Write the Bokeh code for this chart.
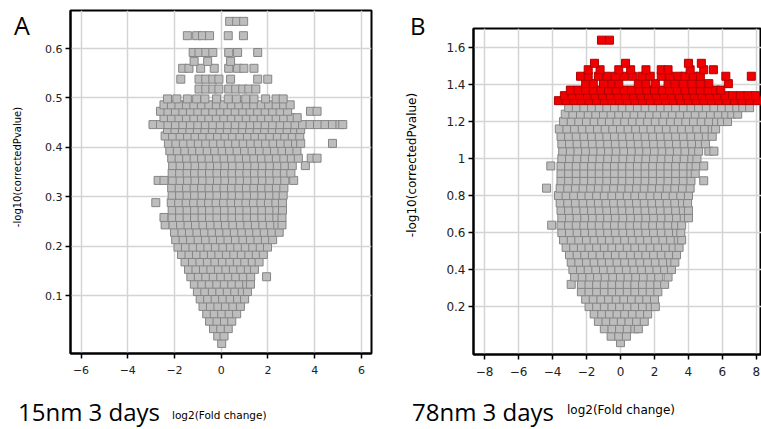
from bokeh.plotting import figure
from bokeh.models import Range1d, FixedTicker, Spacer, Div
from bokeh.layouts import row, column
from bokeh.embed import file_html
from bokeh.resources import INLINE

# ---------------- Panel A (15nm 3 days): rows of points ----------------
A_ROW_Y = [0.003, 0.018, 0.033, 0.048, 0.063, 0.078, 0.093, 0.108, 0.123, 0.138,
           0.153, 0.168, 0.183, 0.198, 0.213, 0.228, 0.243, 0.258, 0.273, 0.288,
           0.303, 0.318, 0.333, 0.348, 0.363, 0.378, 0.393, 0.408, 0.423, 0.436,
           0.446, 0.46, 0.473, 0.486, 0.498,
           0.518, 0.538, 0.56, 0.574, 0.592, 0.626, 0.655]
A_ROW_X = [
    [0.02],
    [-0.15, 0.12],
    [-0.33, -0.02, 0.3],
    [-0.5, -0.18, 0.14, 0.45],
    [-0.62, -0.3, 0.02, 0.34, 0.66],
    [-0.78, -0.46, -0.14, 0.18, 0.5, 0.82],
    [-0.9, -0.58, -0.26, 0.06, 0.38, 0.7, 1.0],
    [-1.02, -0.7, -0.38, -0.06, 0.26, 0.58, 0.9, 1.12],
    [-1.15, -0.83, -0.51, -0.19, 0.13, 0.45, 0.77, 1.09, 1.25],
    [-1.3, -0.98, -0.66, -0.34, -0.02, 0.3, 0.62, 0.94, 1.26, 1.94],
    [-1.4, -1.08, -0.76, -0.44, -0.12, 0.2, 0.52, 0.84, 1.16, 1.42],
    [-1.55, -1.23, -0.91, -0.59, -0.27, 0.05, 0.37, 0.69, 1.01, 1.33, 1.62],
    [-1.7, -1.38, -1.06, -0.74, -0.42, -0.1, 0.22, 0.54, 0.86, 1.18, 1.5, 1.8],
    [-1.85, -1.53, -1.21, -0.89, -0.57, -0.25, 0.07, 0.39, 0.71, 1.03, 1.35, 1.67, 1.98],
    [-1.95, -1.63, -1.31, -0.99, -0.67, -0.35, -0.03, 0.29, 0.61, 0.93, 1.25, 1.57, 1.89, 2.2],
    [-2.0, -1.68, -1.36, -1.04, -0.72, -0.4, -0.08, 0.24, 0.56, 0.88, 1.2, 1.52, 1.84, 2.16, 2.48],
    [-2.4, -2.06, -1.74, -1.42, -1.1, -0.78, -0.46, -0.14, 0.18, 0.5, 0.82, 1.14, 1.46, 1.78, 2.1, 2.42, 2.6],
    [-2.45, -2.1, -1.78, -1.46, -1.14, -0.82, -0.5, -0.18, 0.14, 0.46, 0.78, 1.1, 1.42, 1.74, 2.06, 2.38, 2.6],
    [-2.1, -1.78, -1.46, -1.14, -0.82, -0.5, -0.18, 0.14, 0.46, 0.78, 1.1, 1.42, 1.74, 2.06, 2.38, 2.62],
    [-2.8, -2.14, -1.82, -1.5, -1.18, -0.86, -0.54, -0.22, 0.1, 0.42, 0.74, 1.06, 1.38, 1.7, 2.02, 2.34, 2.62],
    [-2.1, -1.78, -1.46, -1.14, -0.82, -0.5, -0.18, 0.14, 0.46, 0.78, 1.1, 1.42, 1.74, 2.06, 2.38, 2.65],
    [-2.12, -1.8, -1.48, -1.16, -0.84, -0.52, -0.2, 0.12, 0.44, 0.76, 1.08, 1.4, 1.72, 2.04, 2.36, 2.68],
    [-2.7, -2.45, -2.08, -1.76, -1.44, -1.12, -0.8, -0.48, -0.16, 0.16, 0.48, 0.8, 1.12, 1.44, 1.76, 2.08, 2.4, 2.72, 3.1],
    [-2.1, -1.78, -1.46, -1.14, -0.82, -0.5, -0.18, 0.14, 0.46, 0.78, 1.1, 1.42, 1.74, 2.06, 2.38, 2.7, 2.98],
    [-2.08, -1.76, -1.44, -1.12, -0.8, -0.48, -0.16, 0.16, 0.48, 0.8, 1.12, 1.44, 1.76, 2.08, 2.4, 2.72, 3.04, 3.6],
    [-2.12, -1.8, -1.48, -1.16, -0.84, -0.52, -0.2, 0.12, 0.44, 0.76, 1.08, 1.4, 1.72, 2.04, 2.36, 2.68, 3.0, 3.3, 3.85, 4.1],
    [-2.2, -1.88, -1.56, -1.24, -0.92, -0.6, -0.28, 0.04, 0.36, 0.68, 1.0, 1.32, 1.64, 1.96, 2.28, 2.6, 2.92, 3.24],
    [-2.26, -1.94, -1.62, -1.3, -0.98, -0.66, -0.34, -0.02, 0.3, 0.62, 0.94, 1.26, 1.58, 1.9, 2.22, 2.54, 2.86, 3.18, 3.4, 4.76],
    [-2.4, -2.08, -1.76, -1.44, -1.12, -0.8, -0.48, -0.16, 0.16, 0.48, 0.8, 1.12, 1.44, 1.76, 2.08, 2.4, 2.72, 3.04, 3.36],
    [-2.3, -1.98, -1.66, -1.34, -1.02, -0.7, -0.38, -0.06, 0.26, 0.58, 0.9, 1.22, 1.54, 1.86, 2.18, 2.5, 2.82, 3.14, 3.4],
    [-2.92, -2.6, -2.28, -1.96, -1.64, -1.32, -1.0, -0.68, -0.36, -0.04, 0.28, 0.6, 0.92, 1.24, 1.56, 1.88,
     2.2, 2.52, 2.84, 3.16, 3.48, 3.8, 4.12, 4.44, 4.76, 5.08, 5.2],
    [-2.45, -2.13, -1.81, -1.49, -1.17, -0.85, -0.53, -0.21, 0.11, 0.43, 0.75, 1.07, 1.39, 1.71, 2.03, 2.35, 2.67, 2.99, 3.25],
    [-2.6, -2.28, -1.96, -1.64, -1.32, -1.0, -0.68, -0.36, -0.04, 0.28, 0.6, 0.92, 1.24, 1.56, 1.88, 2.2, 2.52, 2.84, 3.82, 4.1],
    [-2.45, -2.13, -1.81, -1.49, -1.17, -0.85, -0.53, -0.21, 0.11, 0.43, 0.75, 1.07, 1.39, 1.71, 2.03, 2.35, 2.67, 2.95],
    [-2.3, -1.9, -1.45, -1.05, -0.7, -0.2, 0.3, 0.65, 1.05, 1.4, 1.9, 2.35, 2.65],
    [-0.95, -0.66, -0.36, -0.1, 0.32, 0.62, 0.92, 1.18, 1.48],
    [-1.73, -0.95, -0.66, -0.36, -0.1, 0.4, 1.56, 1.99],
    [-1.65, -1.38, -0.88, -0.3, 0.32, 0.7, 0.97, 1.4],
    [-1.16, -0.58, 0.4],
    [-1.2, -0.95, -0.66, -0.36, 0.32, 0.7, 1.56],
    [-1.45, -1.05, -0.8, -0.5, 0.3, 0.95],
    [0.36, 0.66, 0.96],
]

# ---------------- Panel B (78nm 3 days) ----------------
B_GRAY_Y = [0.005, 0.04, 0.08, 0.12, 0.16, 0.2, 0.24, 0.28, 0.32, 0.36, 0.4, 0.44, 0.48, 0.52,
            0.56, 0.6, 0.64, 0.68, 0.72, 0.76, 0.8, 0.84, 0.88, 0.92, 0.96, 1.0, 1.04, 1.08,
            1.12, 1.16, 1.2, 1.24, 1.275]
B_GRAY_X = [
    [0.0],
    [-0.55, -0.1, 0.35],
    [-0.95, -0.5, -0.05, 0.4, 0.85, 1.05],
    [-1.3, -0.85, -0.4, 0.05, 0.5, 0.95, 1.4],
    [-1.55, -1.1, -0.65, -0.2, 0.25, 0.7, 1.15, 1.6],
    [-1.85, -1.4, -0.95, -0.5, -0.05, 0.4, 0.85, 1.3, 1.75, 2.05],
    [-2.05, -1.6, -1.15, -0.7, -0.25, 0.2, 0.65, 1.1, 1.55, 2.0],
    [-2.3, -1.85, -1.4, -0.95, -0.5, -0.05, 0.4, 0.85, 1.3, 1.75, 2.2],
    [-2.9, -2.3, -1.85, -1.4, -0.95, -0.5, -0.05, 0.4, 0.85, 1.3, 1.75, 2.2, 2.6],
    [-2.7, -2.25, -1.8, -1.35, -0.9, -0.45, 0.0, 0.45, 0.9, 1.35, 1.8, 2.25, 2.8],
    [-2.8, -2.35, -1.9, -1.45, -1.0, -0.55, -0.1, 0.35, 0.8, 1.25, 1.7, 2.15, 2.6, 3.0],
    [-2.9, -2.45, -2.0, -1.55, -1.1, -0.65, -0.2, 0.25, 0.7, 1.15, 1.6, 2.05, 2.5, 2.95, 3.2],
    [-3.0, -2.55, -2.1, -1.65, -1.2, -0.75, -0.3, 0.15, 0.6, 1.05, 1.5, 1.95, 2.4, 2.85, 3.3],
    [-3.2, -2.75, -2.3, -1.85, -1.4, -0.95, -0.5, -0.05, 0.4, 0.85, 1.3, 1.75, 2.2, 2.65, 3.1, 3.45],
    [-3.35, -2.9, -2.45, -2.0, -1.55, -1.1, -0.65, -0.2, 0.25, 0.7, 1.15, 1.6, 2.05, 2.5, 2.95, 3.4, 3.6],
    [-3.45, -3.0, -2.55, -2.1, -1.65, -1.2, -0.75, -0.3, 0.15, 0.6, 1.05, 1.5, 1.95, 2.4, 2.85, 3.3, 3.55],
    [-4.05, -3.5, -3.05, -2.6, -2.15, -1.7, -1.25, -0.8, -0.35, 0.1, 0.55, 1.0, 1.45, 1.9, 2.35, 2.8, 3.25, 3.6],
    [-3.45, -3.0, -2.55, -2.1, -1.65, -1.2, -0.75, -0.3, 0.15, 0.6, 1.05, 1.5, 1.95, 2.4, 2.85, 3.3, 3.75, 4.0],
    [-3.5, -3.05, -2.6, -2.15, -1.7, -1.25, -0.8, -0.35, 0.1, 0.55, 1.0, 1.45, 1.9, 2.35, 2.8, 3.25, 3.7, 4.0],
    [-3.55, -3.1, -2.65, -2.2, -1.75, -1.3, -0.85, -0.4, 0.05, 0.5, 0.95, 1.4, 1.85, 2.3, 2.75, 3.2, 3.65, 3.95],
    [-3.65, -3.2, -2.75, -2.3, -1.85, -1.4, -0.95, -0.5, -0.05, 0.4, 0.85, 1.3, 1.75, 2.2, 2.65, 3.1, 3.55, 4.0],
    [-4.35, -3.55, -3.1, -2.65, -2.2, -1.75, -1.3, -0.85, -0.4, 0.05, 0.5, 0.95, 1.4, 1.85, 2.3, 2.75, 3.2, 3.65, 4.1],
    [-3.5, -3.05, -2.6, -2.15, -1.7, -1.25, -0.8, -0.35, 0.1, 0.55, 1.0, 1.45, 1.9, 2.35, 2.8, 3.25, 3.7, 4.15, 4.9],
    [-3.5, -3.05, -2.6, -2.15, -1.7, -1.25, -0.8, -0.35, 0.1, 0.55, 1.0, 1.45, 1.9, 2.35, 2.8, 3.25, 3.7, 4.15, 4.4],
    [-4.1, -3.5, -3.05, -2.6, -2.15, -1.7, -1.25, -0.8, -0.35, 0.1, 0.55, 1.0, 1.45, 1.9, 2.35, 2.8, 3.25, 3.7, 4.15, 4.45, 4.9],
    [-3.45, -3.0, -2.55, -2.1, -1.65, -1.2, -0.75, -0.3, 0.15, 0.6, 1.05, 1.5, 1.95, 2.4, 2.85, 3.3, 3.75, 4.2, 4.5],
    [-3.4, -2.95, -2.5, -2.05, -1.6, -1.15, -0.7, -0.25, 0.2, 0.65, 1.1, 1.55, 2.0, 2.45, 2.9, 3.35, 3.8, 4.25, 4.6, 5.2, 5.5],
    [-3.45, -3.0, -2.55, -2.1, -1.65, -1.2, -0.75, -0.3, 0.15, 0.6, 1.05, 1.5, 1.95, 2.4, 2.85, 3.3, 3.75, 4.2, 4.65, 5.0],
    [-3.5, -3.05, -2.6, -2.15, -1.7, -1.25, -0.8, -0.35, 0.1, 0.55, 1.0, 1.45, 1.9, 2.35, 2.8, 3.25, 3.7, 4.15, 4.6, 5.05, 5.4],
    [-3.6, -3.15, -2.7, -2.25, -1.8, -1.35, -0.9, -0.45, 0.0, 0.45, 0.9, 1.35, 1.8, 2.25, 2.7, 3.15, 3.6, 4.05, 4.5, 4.95, 5.4, 5.6],
    [-3.35, -2.9, -2.45, -2.0, -1.55, -1.1, -0.65, -0.2, 0.25, 0.7, 1.15, 1.6, 2.05, 2.5, 2.95, 3.4, 3.85, 4.3, 4.75, 5.2, 5.65, 5.95, 6.3],
    [-3.25, -2.8, -2.35, -1.9, -1.45, -1.0, -0.55, -0.1, 0.35, 0.8, 1.25, 1.7, 2.15, 2.6, 3.05, 3.5, 3.95, 4.4, 4.85, 5.3, 5.75, 6.2, 6.55, 6.9],
    [-3.05, -2.6, -2.15, -1.7, -1.25, -0.8, -0.35, 0.1, 0.55, 1.0, 1.45, 1.9, 2.35, 2.8, 3.25, 3.7, 4.15, 4.6, 5.05, 5.5, 5.95, 6.4, 6.85, 7.2, 7.6],
]

B_RED_Y = [1.313, 1.34, 1.37, 1.405, 1.445, 1.48, 1.515, 1.64]
B_RED_X = [
    [-3.65, -3.2, -2.75, -2.3, -1.85, -1.4, -0.95, -0.5, -0.05, 0.4, 0.85, 1.3, 1.75, 2.2, 2.65, 3.1, 3.55,
     4.0, 4.45, 4.9, 5.35, 5.8, 6.25, 6.7, 7.15, 7.6, 8.05],
    [-3.3, -2.85, -2.4, -1.95, -1.5, -1.05, -0.6, -0.15, 0.3, 0.75, 1.2, 1.65, 2.1, 2.55, 3.0, 3.45, 3.9,
     4.35, 4.8, 5.25, 5.7, 6.15, 6.6, 7.05, 7.5, 7.95],
    [-2.95, -2.5, -2.05, -1.6, -1.15, -0.7, -0.25, 0.2, 0.65, 1.1, 1.55, 2.0, 2.45, 2.9, 3.35, 3.8, 4.25,
     4.7, 5.15, 5.6, 5.9],
    [-2.05, -1.6, -1.0, -0.5, -0.1, 1.05, 1.5, 2.05, 2.8, 3.2, 3.7, 4.2, 4.7, 5.2, 6.35],
    [-2.35, -1.9, -1.3, -0.8, -0.3, 0.2, 0.7, 1.25, 1.75, 2.4, 2.9, 3.4, 3.8, 4.3, 4.7, 6.2, 7.7],
    [-1.9, -1.2, -0.1, 0.6, 1.5, 2.4, 2.8, 4.1, 4.9, 5.47],
    [-1.53, 0.3, 4.0, 4.76],
    [-1.12, -0.65],
]

A_XTICKS = [-6, -4, -2, 0, 2, 4, 6]
A_YTICKS = [0.1, 0.2, 0.3, 0.4, 0.5, 0.6]
B_XTICKS = [-8, -6, -4, -2, 0, 2, 4, 6, 8]
B_YTICKS = [0.2, 0.4, 0.6, 0.8, 1, 1.2, 1.4, 1.6]
B_YLABELS = ["0.2", "0.4", "0.6", "0.8", "1", "1.2", "1.4", "1.6"]

PANEL_A = "A"
PANEL_B = "B"
COND_A = "15nm 3 days"
COND_B = "78nm 3 days"
X_TITLE = "log2(Fold change)"
Y_TITLE = "-log10(correctedPvalue)"


def flatten(ys, xs):
    X, Y = [], []
    for yv, xr in zip(ys, xs):
        for xv in xr:
            X.append(xv)
            Y.append(yv)
    return X, Y


GRAY_FILL = "#bdbdbd"
GRAY_LINE = "#858585"
RED_FILL = "#f20000"
RED_LINE = "#b00000"
TICK_FONT = "DejaVu Sans"
BIG_FONT = "Open Sans"


def style(p, xticks, yticks, tick_size):
    p.outline_line_color = "black"
    p.outline_line_width = 2
    p.background_fill_color = "white"
    p.border_fill_color = "white"
    for ax in (p.xaxis[0], p.yaxis[0]):
        ax.axis_line_color = "black"
        ax.axis_line_width = 2
        ax.major_tick_line_color = "black"
        ax.major_tick_line_width = 1.5
        ax.major_tick_in = 0
        ax.major_tick_out = 5
        ax.minor_tick_line_color = None
        ax.major_label_text_font = TICK_FONT
        ax.major_label_text_font_size = tick_size
        ax.major_label_text_color = "#222222"
    p.xaxis[0].ticker = FixedTicker(ticks=xticks)
    p.yaxis[0].ticker = FixedTicker(ticks=yticks)
    p.xaxis[0].major_label_standoff = 7
    p.yaxis[0].major_label_standoff = 3
    p.xgrid[0].ticker = FixedTicker(ticks=xticks)
    p.ygrid[0].ticker = FixedTicker(ticks=yticks)
    for g in (p.xgrid[0], p.ygrid[0]):
        g.grid_line_color = "#d4d4d4"
        g.grid_line_width = 1.5


def span(text, left, top, font, size, extra=""):
    return (f'<div style="position:absolute;left:{left}px;top:{top}px;white-space:nowrap;'
            f'font-family:\'{font}\';font-size:{size}px;line-height:{size}px;color:#000;{extra}">{text}</div>')


def rot(text, cx, cy, font, size):
    return (f'<div style="position:absolute;left:{cx}px;top:{cy}px;white-space:nowrap;'
            f'font-family:\'{font}\';font-size:{size}px;line-height:{size}px;color:#000;'
            f'transform:translate(-50%,-50%) rotate(-90deg);">{text}</div>')


def box(w, h, inner):
    html = f'<div style="position:relative;width:{w}px;height:{h}px;overflow:visible;">{inner}</div>'
    return Div(text=html, width=w, height=h, margin=0)


# ---------------- figure A ----------------
pa = figure(width=344, height=395, output_backend="svg", toolbar_location=None, margin=0,
            x_range=Range1d(-6.45, 6.43), y_range=Range1d(-0.0174, 0.677),
            min_border_left=34, min_border_right=9, min_border_top=10, min_border_bottom=42)
style(pa, A_XTICKS, A_YTICKS, "11px")
ax_, ay_ = flatten(A_ROW_Y, A_ROW_X)
pa.scatter(ax_, ay_, marker="square", size=8, fill_color=GRAY_FILL, line_color=GRAY_LINE, line_width=1)

left_a = box(36, 395, span(PANEL_A, 14, 12.8, BIG_FONT, 25) + rot(Y_TITLE, 18, 167, TICK_FONT, 10))
bottom_a = box(380, 34, span(COND_A, 18, 4.7, BIG_FONT, 24) + span(X_TITLE, 172, 15.1, TICK_FONT, 10.5))

# ---------------- figure B ----------------
pb = figure(width=326, height=378, output_backend="svg", toolbar_location=None, margin=0,
            x_range=Range1d(-8.65, 8.3), y_range=Range1d(-0.059, 1.703),
            min_border_left=38, min_border_right=0, min_border_top=10, min_border_bottom=42)
style(pb, B_XTICKS, B_YTICKS, "12px")
pb.yaxis[0].major_label_overrides = {t: s for t, s in zip(B_YTICKS, B_YLABELS)}
bx, by = flatten(B_GRAY_Y, B_GRAY_X)
pb.scatter(bx, by, marker="square", size=8, fill_color=GRAY_FILL, line_color=GRAY_LINE, line_width=1)
rx, ry = flatten(B_RED_Y, B_RED_X)
pb.scatter(rx, ry, marker="square", size=8, fill_color=RED_FILL, line_color=RED_LINE, line_width=1)

left_b = box(55, 396, span(PANEL_B, 30, 13.7, BIG_FONT, 24) + rot(Y_TITLE, 32, 165, TICK_FONT, 12))
bottom_b = box(381, 33, span(COND_B, 32, 3.7, BIG_FONT, 24) + span(X_TITLE, 187, 7.8, TICK_FONT, 12))

col_a = column(row(left_a, pa, spacing=0), bottom_a, spacing=0)
col_b = column(row(left_b, column(Spacer(width=326, height=18, margin=0), pb, spacing=0), spacing=0),
               bottom_b, spacing=0)
layout = row(col_a, col_b, spacing=0)
open("out.html", "w").write(file_html(layout, INLINE))
